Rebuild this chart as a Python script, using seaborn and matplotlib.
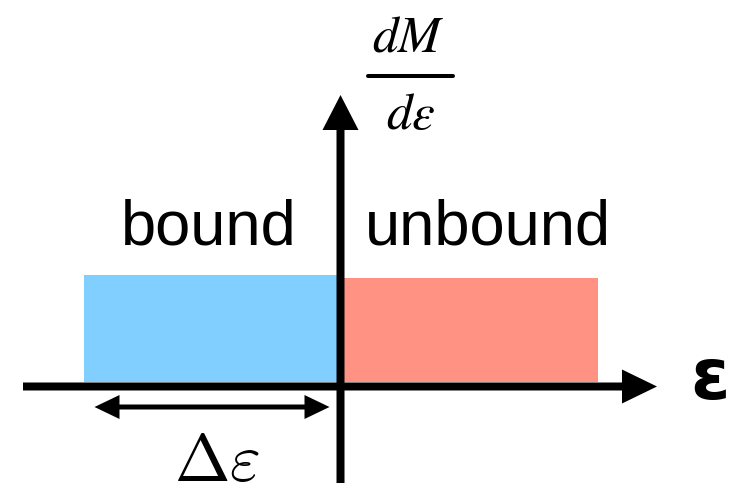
import matplotlib
matplotlib.use("Agg")
import matplotlib.pyplot as plt
from matplotlib.lines import Line2D
import pandas as pd
import seaborn as sns

# Energy distribution of the debris: bound part (eps < 0) and unbound part (eps > 0)
regions = ["bound", "unbound"]
bin_centers = [-0.5, 0.5]      # in units of the spread Δε
bin_widths = [1.0, 1.0]
dM_deps = [1.0, 0.97]          # dM/dε, arbitrary units
bin_colors = ["#80CFFF", "#FF9282"]

sns.set_theme(style="white")
plt.rcParams["font.family"] = ["Liberation Sans", "DejaVu Sans"]

W, H = 732, 493
fig = plt.figure(figsize=(W / 100, H / 100), dpi=100)
ax = fig.add_axes([0, 0, 1, 1])

df = pd.DataFrame({"eps": bin_centers, "dMde": dM_deps, "region": regions})
sns.barplot(data=df, x="eps", y="dMde", hue="region",
            palette=dict(zip(regions, bin_colors)), native_scale=True,
            width=bin_widths[0], dodge=False, saturation=1, legend=False,
            errorbar=None, orient="x", linewidth=0, edgecolor="none", ax=ax)

# pixel layout of the sketch: origin and pixels per data unit
X0, UX = 340.5, 257.0
Y0, UY = 382.0, 107.0


def dx(px):
    return (px - X0) / UX


def dy(py):
    return (Y0 - py) / UY


ax.set_xlim(dx(0), dx(W))
ax.set_ylim(dy(H), dy(0))
ax.set_axis_off()

# energy axis
y_ax = dy(386.5)
ax.arrow(dx(23), y_ax, dx(657) - dx(23), 0, width=8 / UY, head_width=34 / UY,
         head_length=35 / UX, length_includes_head=True, color="black", lw=0,
         zorder=5)
# dM/dε axis
ax.arrow(0, dy(483), 0, dy(95) - dy(483), width=8 / UX, head_width=36 / UX,
         head_length=35 / UY, length_includes_head=True, color="black", lw=0,
         zorder=5)

# Δε double arrow spanning the bound bin
left_edge = bin_centers[0] - bin_widths[0] / 2
right_edge = bin_centers[0] + bin_widths[0] / 2
gap = 11 / UX
mid = bin_centers[0]
y_d = dy(407)
for tip in (left_edge + gap, right_edge - gap):
    ax.arrow(mid, y_d, tip - mid, 0, width=5 / UY, head_width=24 / UY,
             head_length=25 / UX, length_includes_head=True, color="black",
             lw=0, zorder=5)


def fx(px):
    return px / W


def fy(py):
    return 1 - py / H


fig.text(fx(209), fy(244), regions[0], ha="center", va="baseline", fontsize=45.5,
         color="black")
fig.text(fx(487.5), fy(244), regions[1], ha="center", va="baseline", fontsize=45.5,
         color="black")
fig.text(fx(709.5), fy(399), "ε", ha="center", va="baseline", fontsize=51,
         fontweight="bold", family=["DejaVu Sans"], color="black")

# dM/dε axis label as a fraction
fig.text(fx(408), fy(51), r"$dM$", ha="center", va="baseline", fontsize=37,
         math_fontfamily="stix", color="black")
fig.add_artist(Line2D([fx(368), fx(453)], [fy(76), fy(76)], lw=2.9,
                      color="black", transform=fig.transFigure))
fig.text(fx(410.5), fy(129), r"$d\varepsilon$", ha="center", va="baseline",
         fontsize=37, math_fontfamily="stix", color="black")

fig.text(fx(217), fy(481), r"$\Delta\varepsilon$", ha="center", va="baseline",
         fontsize=48, math_fontfamily="cm", color="black")

fig.savefig("out.png", dpi=100, facecolor="white")
